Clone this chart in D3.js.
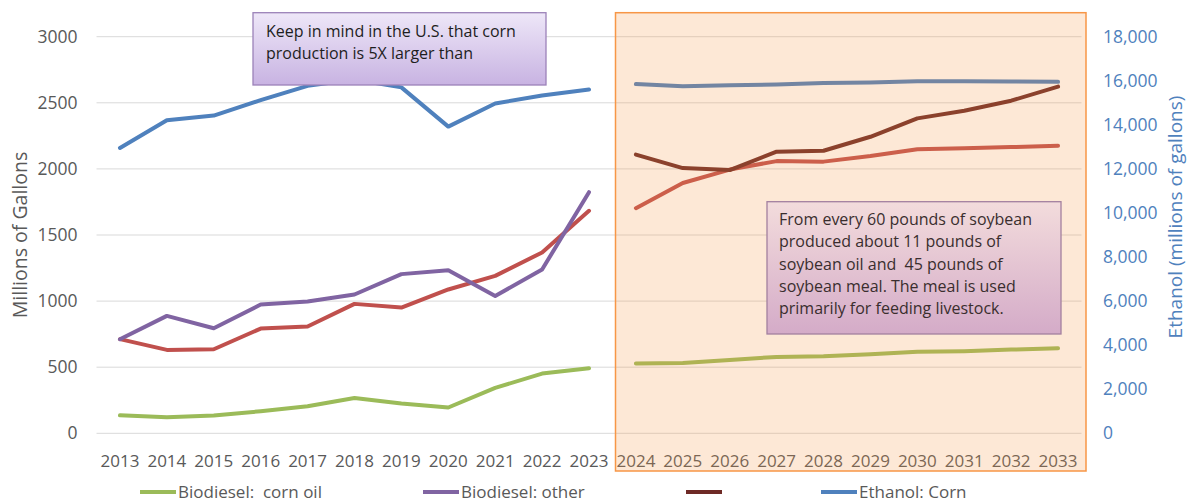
<!DOCTYPE html>
<html><head><meta charset="utf-8">
<script src="https://cdn.jsdelivr.net/npm/d3@7/dist/d3.min.js"></script>
<style>
html,body{margin:0;padding:0;background:#fff;}
svg{display:block;font-family:"Open Sans",sans-serif;}
</style></head>
<body><svg id="c" width="1188" height="504"></svg>
<script>
// ---- data ----
const years = ["2013","2014","2015","2016","2017","2018","2019","2020","2021","2022","2023",
               "2024","2025","2026","2027","2028","2029","2030","2031","2032","2033"];
const histYears = years.slice(0, 11);
const projYears = years.slice(11);
const leftTicks = [0, 500, 1000, 1500, 2000, 2500, 3000];
const rightTicks = [0, 2000, 4000, 6000, 8000, 10000, 12000, 14000, 16000, 18000];

// Millions of gallons (left axis)
const cornOilHist = [136, 121, 134, 167, 204, 267, 225, 195, 343, 452, 492];
const cornOilProj = [528, 532, 555, 578, 583, 598, 616, 621, 633, 643];
const otherHist   = [712, 888, 795, 974, 997, 1050, 1204, 1234, 1039, 1239, 1824];
const soyHist     = [712, 631, 636, 792, 808, 979, 951, 1088, 1191, 1368, 1683];
const soyProj     = [1703, 1893, 1995, 2059, 2055, 2097, 2148, 2157, 2165, 2175];
const darkProj    = [2108, 2006, 1991, 2130, 2137, 2243, 2382, 2440, 2516, 2622];
// Ethanol: Corn, millions of gallons (right axis)
const ethanolHist = [12950, 14210, 14420, 15120, 15770, 16060, 15700, 13920, 14970, 15330, 15600];
const ethanolProj = [15850, 15750, 15800, 15830, 15900, 15920, 15980, 15980, 15970, 15950];

const legendItems = [
  {label: "Biodiesel:  corn oil", color: "#9BBB59", x: 140},
  {label: "Biodiesel: other",     color: "#8064A2", x: 423},
  {label: "",                     color: "#6E2A26", x: 686},
  {label: "Ethanol: Corn",        color: "#4F81BD", x: 821}
];
const note1 = ["Keep in mind in the U.S. that corn", "production is 5X larger than"];
const note2 = ["From every 60 pounds of soybean", "produced about 11 pounds of",
               "soybean oil and  45 pounds of", "soybean meal. The meal is used",
               "primarily for feeding livestock."];

// ---- layout ----
const svg = d3.select("#c");
const plot = {left: 96.5, right: 1081.5, top: 36.7, bottom: 433.3};
const x = d3.scaleBand().domain(years).range([plot.left, plot.right]);
const cx = d => x(d) + x.bandwidth() / 2;
const yL = d3.scaleLinear().domain([0, 3000]).range([plot.bottom, plot.top]);
const yR = d3.scaleLinear().domain([0, 18000]).range([plot.bottom, plot.top]);

const defs = svg.append("defs");
function grad(id, c1, c2) {
  const g = defs.append("linearGradient").attr("id", id).attr("x1", 0).attr("y1", 0).attr("x2", 0).attr("y2", 1);
  g.append("stop").attr("offset", "0%").attr("stop-color", c1);
  g.append("stop").attr("offset", "100%").attr("stop-color", c2);
}
grad("g1", "#EEE7F8", "#C8B3E2");
grad("g2", "#F3DCDC", "#D4ABC8");

// gridlines
svg.append("g").selectAll("line").data(leftTicks).join("line")
  .attr("x1", plot.left).attr("x2", plot.right)
  .attr("y1", d => yL(d)).attr("y2", d => yL(d))
  .attr("stroke", "#D9D9D9").attr("stroke-width", 1);

// left axis labels
const axL = svg.append("g").attr("transform", `translate(${plot.left - 19},0)`)
  .call(d3.axisLeft(yL).tickValues(leftTicks).tickFormat(d3.format("d")).tickSize(0).tickPadding(0));
axL.select(".domain").remove();
axL.selectAll("text").attr("fill", "#595959").style("font-size", "17.5px").style("font-family", "Open Sans");

// right axis labels
const axR = svg.append("g").attr("transform", `translate(1103,0)`)
  .call(d3.axisRight(yR).tickValues(rightTicks).tickFormat(d3.format(",")).tickSize(0).tickPadding(0));
axR.select(".domain").remove();
axR.selectAll("text").attr("fill", "#4F81BD").style("font-size", "17.5px").style("font-family", "Open Sans");

// x axis labels
const axX = svg.append("g").attr("transform", `translate(0,${plot.bottom + 22})`)
  .call(d3.axisBottom(x).tickSize(0).tickPadding(0));
axX.select(".domain").remove();
axX.selectAll("text").attr("fill", "#595959").attr("dy", "0.71em").style("font-size", "17px").style("font-family", "Open Sans");

// axis titles
svg.append("text").attr("transform", "translate(27,235) rotate(-90)").attr("text-anchor", "middle")
  .attr("fill", "#595959").style("font-size", "19.5px").text("Millions of Gallons");
svg.append("text").attr("transform", "translate(1182,217) rotate(-90)").attr("text-anchor", "middle")
  .attr("fill", "#4F81BD").style("font-size", "19px").text("Ethanol (millions of gallons)");

// lines
function drawLine(yrs, vals, scale, color) {
  const data = yrs.map((yv, i) => ({year: yv, v: vals[i]}));
  svg.append("path").datum(data)
    .attr("fill", "none").attr("stroke", color).attr("stroke-width", 4)
    .attr("stroke-linejoin", "round").attr("stroke-linecap", "round")
    .attr("d", d3.line().x(d => cx(d.year)).y(d => scale(d.v)));
}
drawLine(histYears, cornOilHist, yL, "#9BBB59");
drawLine(projYears, cornOilProj, yL, "#9BBB59");
drawLine(histYears, soyHist, yL, "#C0504D");
drawLine(projYears, soyProj, yL, "#C0504D");
drawLine(histYears, otherHist, yL, "#8064A2");
drawLine(projYears, darkProj, yL, "#6E2A26");
drawLine(histYears, ethanolHist, yR, "#4F81BD");
drawLine(projYears, ethanolProj, yR, "#4F81BD");

// note 1
svg.append("rect").attr("x", 253).attr("y", 12.7).attr("width", 293).attr("height", 72.3)
  .attr("fill", "url(#g1)").attr("stroke", "#9B82B8").attr("stroke-width", 1.3);
svg.append("g").selectAll("text").data(note1).join("text")
  .attr("x", 266).attr("y", (d, i) => 36.7 + i * 22.6)
  .attr("fill", "#1E1E1E").style("font-size", "16px").text(d => d);

// projection overlay
svg.append("rect").attr("x", 615.5).attr("y", 12.7).attr("width", 470.5).attr("height", 458.3)
  .attr("fill", "rgba(247,150,70,0.22)").attr("stroke", "#F79646").attr("stroke-width", 1.5);

// note 2
svg.append("rect").attr("x", 767).attr("y", 201.7).attr("width", 294).attr("height", 132.3)
  .attr("fill", "url(#g2)").attr("stroke", "#A3809F").attr("stroke-width", 1.3);
svg.append("g").selectAll("text").data(note2).join("text")
  .attr("x", 779).attr("y", (d, i) => 225 + i * 22.3)
  .attr("fill", "#3A2E2E").style("font-size", "16px").style("white-space", "pre").text(d => d);

// legend
const lg = svg.append("g").selectAll("g").data(legendItems).join("g")
  .attr("transform", d => `translate(${d.x},492)`);
lg.append("line").attr("x1", 0).attr("x2", 36).attr("stroke", d => d.color).attr("stroke-width", 4);
lg.append("text").attr("x", 38).attr("y", 6).attr("fill", "#595959")
  .style("font-size", "17px").style("white-space", "pre").text(d => d.label);
</script></body></html>
